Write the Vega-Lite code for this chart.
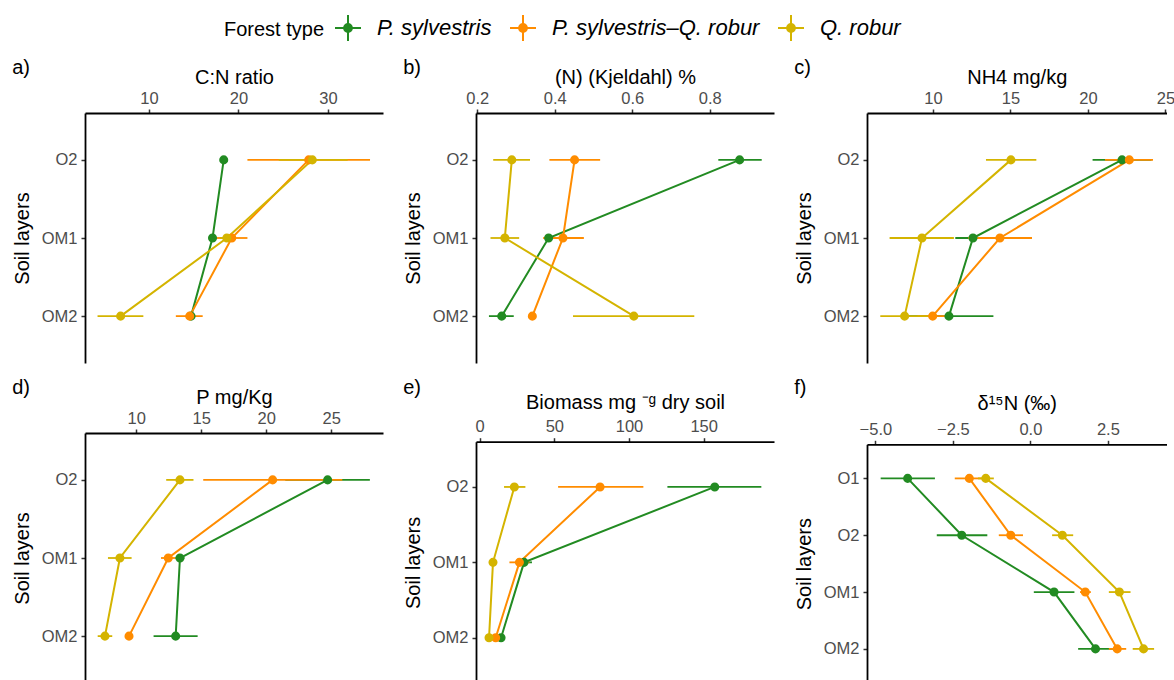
{
  "$schema": "https://vega.github.io/schema/vega-lite/v6.json",
  "autosize": {"type": "pad"},
  "padding": {"left": 12, "top": 14, "right": 0, "bottom": 0},
  "background": "white",
  "config": {
    "font": "Liberation Sans",
    "view": {"stroke": null},
    "axis": {"grid": false, "domainColor": "black", "domainWidth": 1.8, "tickColor": "#333333", "tickWidth": 1.5, "tickSize": 4, "labelFontSize": 16.5, "labelColor": "#4D4D4D", "labelPadding": 3, "titleFontSize": 20, "titleFontWeight": "normal", "titleColor": "black", "labelFlush": false, "labelOverlap": false},
    "axisY": {"titlePadding": 9, "labelPadding": 4},
    "axisX": {"titlePadding": 3},
    "title": {"anchor": "start", "frame": "bounds", "fontSize": 20, "fontWeight": "normal", "color": "black", "baseline": "alphabetic", "offset": -11},
    "legend": {"direction": "horizontal", "titleOrient": "left", "titleFontSize": 20, "titleFontWeight": "normal", "titleColor": "black", "titlePadding": 9, "titleAnchor": "middle", "titleBaseline": "middle", "labelFontSize": 22, "labelFontStyle": "italic", "labelColor": "black", "labelOffset": 15, "labelLimit": 400, "symbolSize": 676, "symbolStrokeWidth": 2, "columnPadding": 14, "padding": 0}
  },
  "data": {"values": [
    {"p": "a", "t": "P. sylvestris", "l": "O2", "m": 18.35, "lo": 18.0, "hi": 18.7},
    {"p": "a", "t": "P. sylvestris", "l": "OM1", "m": 17.1, "lo": 16.7, "hi": 17.5},
    {"p": "a", "t": "P. sylvestris", "l": "OM2", "m": 14.7, "lo": 14.4, "hi": 15.0},
    {"p": "a", "t": "P. sylvestris–Q. robur", "l": "O2", "m": 27.85, "lo": 21.0, "hi": 34.7},
    {"p": "a", "t": "P. sylvestris–Q. robur", "l": "OM1", "m": 19.25, "lo": 17.5, "hi": 21.0},
    {"p": "a", "t": "P. sylvestris–Q. robur", "l": "OM2", "m": 14.55, "lo": 13.0, "hi": 16.0},
    {"p": "a", "t": "Q. robur", "l": "O2", "m": 28.25, "lo": 24.5, "hi": 32.2},
    {"p": "a", "t": "Q. robur", "l": "OM1", "m": 18.7, "lo": 17.9, "hi": 19.5},
    {"p": "a", "t": "Q. robur", "l": "OM2", "m": 6.83, "lo": 4.25, "hi": 9.37},

    {"p": "b", "t": "P. sylvestris", "l": "O2", "m": 0.877, "lo": 0.822, "hi": 0.934},
    {"p": "b", "t": "P. sylvestris", "l": "OM1", "m": 0.384, "lo": 0.372, "hi": 0.396},
    {"p": "b", "t": "P. sylvestris", "l": "OM2", "m": 0.263, "lo": 0.230, "hi": 0.294},
    {"p": "b", "t": "P. sylvestris–Q. robur", "l": "O2", "m": 0.451, "lo": 0.386, "hi": 0.517},
    {"p": "b", "t": "P. sylvestris–Q. robur", "l": "OM1", "m": 0.421, "lo": 0.370, "hi": 0.475},
    {"p": "b", "t": "P. sylvestris–Q. robur", "l": "OM2", "m": 0.342, "lo": 0.335, "hi": 0.349},
    {"p": "b", "t": "Q. robur", "l": "O2", "m": 0.289, "lo": 0.241, "hi": 0.336},
    {"p": "b", "t": "Q. robur", "l": "OM1", "m": 0.271, "lo": 0.234, "hi": 0.308},
    {"p": "b", "t": "Q. robur", "l": "OM2", "m": 0.604, "lo": 0.447, "hi": 0.760},

    {"p": "c", "t": "P. sylvestris", "l": "O2", "m": 22.2, "lo": 20.3, "hi": 24.1},
    {"p": "c", "t": "P. sylvestris", "l": "OM1", "m": 12.58, "lo": 11.44, "hi": 13.72},
    {"p": "c", "t": "P. sylvestris", "l": "OM2", "m": 11.03, "lo": 8.15, "hi": 13.9},
    {"p": "c", "t": "P. sylvestris–Q. robur", "l": "O2", "m": 22.67, "lo": 21.1, "hi": 24.2},
    {"p": "c", "t": "P. sylvestris–Q. robur", "l": "OM1", "m": 14.32, "lo": 12.26, "hi": 16.39},
    {"p": "c", "t": "P. sylvestris–Q. robur", "l": "OM2", "m": 9.98, "lo": 9.0, "hi": 11.0},
    {"p": "c", "t": "Q. robur", "l": "O2", "m": 15.03, "lo": 13.42, "hi": 16.67},
    {"p": "c", "t": "Q. robur", "l": "OM1", "m": 9.29, "lo": 7.2, "hi": 11.35},
    {"p": "c", "t": "Q. robur", "l": "OM2", "m": 8.17, "lo": 6.6, "hi": 9.72},

    {"p": "d", "t": "P. sylvestris", "l": "O2", "m": 24.72, "lo": 21.46, "hi": 27.97},
    {"p": "d", "t": "P. sylvestris", "l": "OM1", "m": 13.36, "lo": 13.0, "hi": 13.7},
    {"p": "d", "t": "P. sylvestris", "l": "OM2", "m": 13.03, "lo": 11.33, "hi": 14.72},
    {"p": "d", "t": "P. sylvestris–Q. robur", "l": "O2", "m": 20.49, "lo": 15.15, "hi": 25.85},
    {"p": "d", "t": "P. sylvestris–Q. robur", "l": "OM1", "m": 12.46, "lo": 11.9, "hi": 13.0},
    {"p": "d", "t": "P. sylvestris–Q. robur", "l": "OM2", "m": 9.44, "lo": 9.2, "hi": 9.7},
    {"p": "d", "t": "Q. robur", "l": "O2", "m": 13.36, "lo": 12.3, "hi": 14.4},
    {"p": "d", "t": "Q. robur", "l": "OM1", "m": 8.74, "lo": 7.82, "hi": 9.64},
    {"p": "d", "t": "Q. robur", "l": "OM2", "m": 7.59, "lo": 7.03, "hi": 8.15},

    {"p": "e", "t": "P. sylvestris", "l": "O2", "m": 157.4, "lo": 125.7, "hi": 188.6},
    {"p": "e", "t": "P. sylvestris", "l": "OM1", "m": 29.7, "lo": 24.0, "hi": 35.0},
    {"p": "e", "t": "P. sylvestris", "l": "OM2", "m": 14.3, "lo": 12.5, "hi": 16.0},
    {"p": "e", "t": "P. sylvestris–Q. robur", "l": "O2", "m": 80.6, "lo": 52.5, "hi": 109.6},
    {"p": "e", "t": "P. sylvestris–Q. robur", "l": "OM1", "m": 26.6, "lo": 19.9, "hi": 33.3},
    {"p": "e", "t": "P. sylvestris–Q. robur", "l": "OM2", "m": 10.7, "lo": 9.5, "hi": 12.0},
    {"p": "e", "t": "Q. robur", "l": "O2", "m": 23.2, "lo": 16.3, "hi": 30.6},
    {"p": "e", "t": "Q. robur", "l": "OM1", "m": 8.9, "lo": 7.5, "hi": 10.3},
    {"p": "e", "t": "Q. robur", "l": "OM2", "m": 6.25, "lo": 5.0, "hi": 7.5},

    {"p": "f", "t": "P. sylvestris", "l": "O1", "m": -3.96, "lo": -4.83, "hi": -3.08},
    {"p": "f", "t": "P. sylvestris", "l": "O2", "m": -2.215, "lo": -3.02, "hi": -1.39},
    {"p": "f", "t": "P. sylvestris", "l": "OM1", "m": 0.763, "lo": 0.11, "hi": 1.42},
    {"p": "f", "t": "P. sylvestris", "l": "OM2", "m": 2.10, "lo": 1.54, "hi": 2.67},
    {"p": "f", "t": "P. sylvestris–Q. robur", "l": "O1", "m": -1.97, "lo": -2.44, "hi": -1.49},
    {"p": "f", "t": "P. sylvestris–Q. robur", "l": "O2", "m": -0.634, "lo": -1.02, "hi": -0.24},
    {"p": "f", "t": "P. sylvestris–Q. robur", "l": "OM1", "m": 1.77, "lo": 1.6, "hi": 1.95},
    {"p": "f", "t": "P. sylvestris–Q. robur", "l": "OM2", "m": 2.80, "lo": 2.53, "hi": 3.09},
    {"p": "f", "t": "Q. robur", "l": "O1", "m": -1.44, "lo": -1.69, "hi": -1.18},
    {"p": "f", "t": "Q. robur", "l": "O2", "m": 1.03, "lo": 0.70, "hi": 1.38},
    {"p": "f", "t": "Q. robur", "l": "OM1", "m": 2.87, "lo": 2.53, "hi": 3.23},
    {"p": "f", "t": "Q. robur", "l": "OM2", "m": 3.65, "lo": 3.30, "hi": 3.99}
  ]},
  "columns": 3,
  "bounds": "flush",
  "spacing": {"row": 70, "column": 93},
  "resolve": {"scale": {"stroke": "shared", "fill": "shared"}},
  "concat": [
    {
      "width": 298, "height": 250,
      "title": {"text": "a)"},
      "transform": [{"filter": "datum.p == 'a'"}],
      "encoding": {
        "y": {"field": "l", "type": "ordinal", "scale": {"type": "point", "domain": ["O2", "OM1", "OM2"], "padding": 0.6}, "axis": {"title": "Soil layers"}},
        "x": {"field": "m", "type": "quantitative", "scale": {"domain": [2.849, 36.15], "nice": false, "zero": false}, "axis": {"orient": "top", "title": "C:N ratio", "values": [10, 20, 30]}},
        "stroke": {"field": "t", "type": "nominal", "scale": {"domain": ["P. sylvestris", "P. sylvestris–Q. robur", "Q. robur"], "range": ["#228B22", "#FF8C00", "#D4B400"]}, "legend": {"title": "Forest type", "orient": "none", "legendX": 139, "legendY": -99, "symbolType": "M-1,0L1,0M0,-1L0,1M0.3,0A0.3,0.3,0,1,1,-0.3,0A0.3,0.3,0,1,1,0.3,0Z"}}
      },
      "layer": [
        {"mark": {"type": "rule", "strokeWidth": 1.8}, "encoding": {"x": {"field": "lo", "type": "quantitative"}, "x2": {"field": "hi"}}},
        {"mark": {"type": "line", "strokeWidth": 2}, "encoding": {"order": {"field": "l", "type": "ordinal"}}},
        {"mark": {"type": "point", "filled": true, "size": 50, "strokeWidth": 2, "opacity": 1}, "encoding": {"fill": {"field": "t", "type": "nominal", "scale": {"domain": ["P. sylvestris", "P. sylvestris–Q. robur", "Q. robur"], "range": ["#228B22", "#FF8C00", "#D4B400"]}, "legend": {"title": "Forest type", "orient": "none", "legendX": 139, "legendY": -99, "symbolType": "M-1,0L1,0M0,-1L0,1M0.3,0A0.3,0.3,0,1,1,-0.3,0A0.3,0.3,0,1,1,0.3,0Z"}}}}
      ]
    },
    {
      "width": 298, "height": 250,
      "title": {"text": "b)"},
      "transform": [{"filter": "datum.p == 'b'"}],
      "encoding": {
        "y": {"field": "l", "type": "ordinal", "scale": {"type": "point", "domain": ["O2", "OM1", "OM2"], "padding": 0.6}, "axis": {"title": "Soil layers"}},
        "x": {"field": "m", "type": "quantitative", "scale": {"domain": [0.1966, 0.9657], "nice": false, "zero": false}, "axis": {"orient": "top", "title": "(N) (Kjeldahl) %", "values": [0.2, 0.4, 0.6, 0.8], "format": ".1f"}},
        "stroke": {"field": "t", "type": "nominal"}
      },
      "layer": [
        {"mark": {"type": "rule", "strokeWidth": 1.8}, "encoding": {"x": {"field": "lo", "type": "quantitative"}, "x2": {"field": "hi"}}},
        {"mark": {"type": "line", "strokeWidth": 2}, "encoding": {"order": {"field": "l", "type": "ordinal"}}},
        {"mark": {"type": "point", "filled": true, "size": 50, "strokeWidth": 2, "opacity": 1}, "encoding": {"fill": {"field": "t", "type": "nominal"}}}
      ]
    },
    {
      "width": 299.5, "height": 250,
      "title": {"text": "c)"},
      "transform": [{"filter": "datum.p == 'c'"}],
      "encoding": {
        "y": {"field": "l", "type": "ordinal", "scale": {"type": "point", "domain": ["O2", "OM1", "OM2"], "padding": 0.6}, "axis": {"title": "Soil layers"}},
        "x": {"field": "m", "type": "quantitative", "scale": {"domain": [5.742, 25.07], "nice": false, "zero": false}, "axis": {"orient": "top", "title": "NH4 mg/kg", "values": [10, 15, 20, 25]}},
        "stroke": {"field": "t", "type": "nominal"}
      },
      "layer": [
        {"mark": {"type": "rule", "strokeWidth": 1.8}, "encoding": {"x": {"field": "lo", "type": "quantitative"}, "x2": {"field": "hi"}}},
        {"mark": {"type": "line", "strokeWidth": 2}, "encoding": {"order": {"field": "l", "type": "ordinal"}}},
        {"mark": {"type": "point", "filled": true, "size": 50, "strokeWidth": 2, "opacity": 1}, "encoding": {"fill": {"field": "t", "type": "nominal"}}}
      ]
    },
    {
      "width": 298, "height": 250,
      "title": {"text": "d)"},
      "transform": [{"filter": "datum.p == 'd'"}],
      "encoding": {
        "y": {"field": "l", "type": "ordinal", "scale": {"type": "point", "domain": ["O2", "OM1", "OM2"], "padding": 0.6}, "axis": {"title": "Soil layers"}},
        "x": {"field": "m", "type": "quantitative", "scale": {"domain": [6.054, 28.98], "nice": false, "zero": false}, "axis": {"orient": "top", "title": "P mg/Kg", "values": [10, 15, 20, 25]}},
        "stroke": {"field": "t", "type": "nominal"}
      },
      "layer": [
        {"mark": {"type": "rule", "strokeWidth": 1.8}, "encoding": {"x": {"field": "lo", "type": "quantitative"}, "x2": {"field": "hi"}}},
        {"mark": {"type": "line", "strokeWidth": 2}, "encoding": {"order": {"field": "l", "type": "ordinal"}}},
        {"mark": {"type": "point", "filled": true, "size": 50, "strokeWidth": 2, "opacity": 1}, "encoding": {"fill": {"field": "t", "type": "nominal"}}}
      ]
    },
    {
      "width": 298, "height": 250,
      "title": {"text": "e)", "offset": -6},
      "transform": [{"filter": "datum.p == 'e'"}],
      "encoding": {
        "y": {"field": "l", "type": "ordinal", "scale": {"type": "point", "domain": ["O2", "OM1", "OM2"], "padding": 0.6, "range": [8.7, 250]}, "axis": {"title": "Soil layers"}},
        "x": {"field": "m", "type": "quantitative", "scale": {"domain": [-2.478, 197.08], "nice": false, "zero": false}, "axis": {"orient": "top", "title": "Biomass mg ⁻ᵍ dry soil", "values": [0, 50, 100, 150], "offset": -8.7, "titlePadding": 6.7}},
        "stroke": {"field": "t", "type": "nominal"}
      },
      "layer": [
        {"mark": {"type": "rule", "strokeWidth": 1.8}, "encoding": {"x": {"field": "lo", "type": "quantitative"}, "x2": {"field": "hi"}}},
        {"mark": {"type": "line", "strokeWidth": 2}, "encoding": {"order": {"field": "l", "type": "ordinal"}}},
        {"mark": {"type": "point", "filled": true, "size": 50, "strokeWidth": 2, "opacity": 1}, "encoding": {"fill": {"field": "t", "type": "nominal"}}}
      ]
    },
    {
      "width": 299.5, "height": 250,
      "title": {"text": "f)", "offset": -4.3},
      "transform": [{"filter": "datum.p == 'f'"}],
      "encoding": {
        "y": {"field": "l", "type": "ordinal", "scale": {"type": "point", "domain": ["O1", "O2", "OM1", "OM2"], "padding": 0.6, "range": [11.3, 250]}, "axis": {"title": "Soil layers"}},
        "x": {"field": "m", "type": "quantitative", "scale": {"domain": [-5.271, 4.39], "nice": false, "zero": false}, "axis": {"orient": "top", "title": "δ¹⁵N (‰)", "values": [-5, -2.5, 0, 2.5], "format": ".1f", "offset": -11.3, "titlePadding": 7.6}},
        "stroke": {"field": "t", "type": "nominal"}
      },
      "layer": [
        {"mark": {"type": "rule", "strokeWidth": 1.8}, "encoding": {"x": {"field": "lo", "type": "quantitative"}, "x2": {"field": "hi"}}},
        {"mark": {"type": "line", "strokeWidth": 2}, "encoding": {"order": {"field": "l", "type": "ordinal"}}},
        {"mark": {"type": "point", "filled": true, "size": 50, "strokeWidth": 2, "opacity": 1}, "encoding": {"fill": {"field": "t", "type": "nominal"}}}
      ]
    }
  ]
}
